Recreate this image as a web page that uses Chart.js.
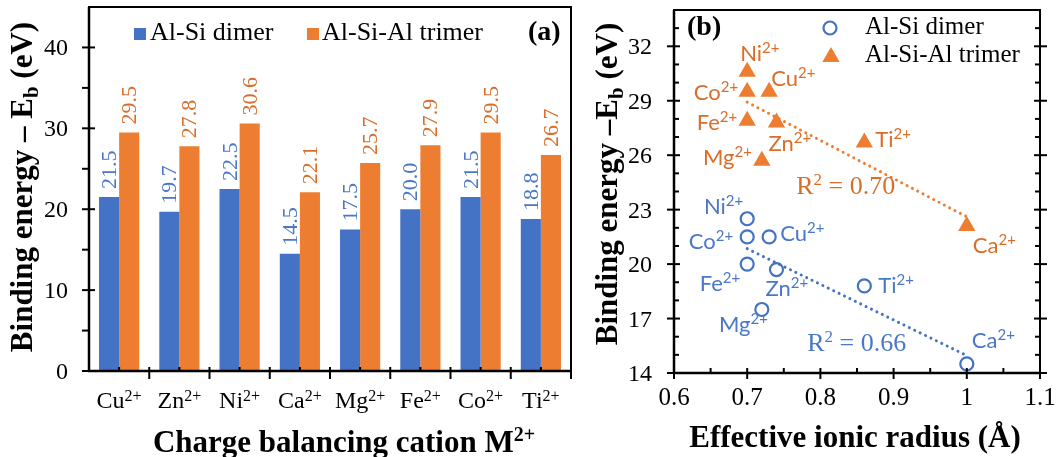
<!DOCTYPE html>
<html>
<head>
<meta charset="utf-8">
<script src="https://cdn.jsdelivr.net/npm/chart.js@4.4.1/dist/chart.umd.min.js"></script>
<style>
  html, body { margin: 0; padding: 0; background: #fff; width: 1056px; height: 457px; overflow: hidden; }
  #panelA { position: absolute; left: 0; top: 0; width: 580px; height: 457px; }
  #panelB { position: absolute; left: 580px; top: 0; width: 476px; height: 457px; }
</style>
</head>
<body>
<div id="panelA"><canvas id="barChart" width="580" height="457"></canvas></div>
<div id="panelB"><canvas id="scatterChart" width="476" height="457"></canvas></div>
<script>
// ---- data ----
const cations = ['Cu²⁺', 'Zn²⁺', 'Ni²⁺', 'Ca²⁺', 'Mg²⁺', 'Fe²⁺', 'Co²⁺', 'Ti²⁺'];
const dimerEb = [21.5, 19.7, 22.5, 14.5, 17.5, 20.0, 21.5, 18.8];
const trimerEb = [29.5, 27.8, 30.6, 22.1, 25.7, 27.9, 29.5, 26.7];
const ionicRadius = [0.73, 0.74, 0.70, 1.00, 0.72, 0.70, 0.70, 0.86];
const seriesNames = ['Al-Si dimer', 'Al-Si-Al trimer'];
const barTicks = [0, 10, 20, 30, 40];
const radiusTicks = [0.6, 0.7, 0.8, 0.9, 1.0, 1.1];
const radiusTickLabels = ['0.6', '0.7', '0.8', '0.9', '1', '1.1'];
const energyTicks = [14, 17, 20, 23, 26, 29, 32];

// ---- styling ----
const BLUE = '#4472C4';
const ORANGE = '#ED7D31';
const BLUE_TEXT = '#4A78C8';
const ORANGE_TEXT = '#D86E2A';
const SERIF = '"Liberation Serif", "Times New Roman", serif';
const SANS = 'Lato, "Open Sans", sans-serif';

// label anchors (px offsets from each marker) for the ion names in panel (b)
const dimerLabelPos = [[11, 4, 'left'], [-11, 26, 'left'], [-4, -5, 'right'], [5, -16, 'left'],
                       [6, 23, 'right'], [-7, 27, 'right'], [-14, 12, 'right'], [14, 7, 'left']];
const trimerLabelPos = [[2, -6, 'left'], [-8, 28, 'left'], [-7, -11, 'left'], [6, 27, 'left'],
                        [-10, 4, 'right'], [-10, 9, 'right'], [-9, 8, 'right'], [11, 5, 'left']];
// where the R² annotations sit, in axis units
const r2LabelAt = [{ x: 0.782, y: 15.2 }, { x: 0.767, y: 23.84 }];

// ---- helpers ----
const SUP_MAP = { '²': '2', '⁺': '+' };
function splitSup(s) {
  const i = s.search(/[²⁺]/);
  if (i < 0) return [s, ''];
  return [s.slice(0, i), [...s.slice(i)].map(c => SUP_MAP[c] || c).join('')];
}
function drawRich(ctx, parts, x, y, align) {
  let w = 0;
  parts.forEach(p => { ctx.font = p.font; p.w = ctx.measureText(p.text).width; w += p.w; });
  let cx = align === 'center' ? x - w / 2 : align === 'right' ? x - w : x;
  ctx.textAlign = 'left';
  ctx.textBaseline = 'alphabetic';
  parts.forEach(p => { ctx.font = p.font; ctx.fillText(p.text, cx, y + (p.dy || 0)); cx += p.w; });
}
function ionParts(label, baseFont, supFont, rise) {
  const [b, s] = splitSup(label);
  const parts = [{ text: b, font: baseFont }];
  if (s) parts.push({ text: s, font: supFont, dy: -rise });
  return parts;
}
function line(ctx, x1, y1, x2, y2) {
  ctx.beginPath(); ctx.moveTo(x1, y1); ctx.lineTo(x2, y2); ctx.stroke();
}
function leastSquares(xs, ys) {
  const n = xs.length;
  const mx = xs.reduce((a, b) => a + b, 0) / n;
  const my = ys.reduce((a, b) => a + b, 0) / n;
  let sxy = 0, sxx = 0, syy = 0;
  for (let i = 0; i < n; i++) {
    sxy += (xs[i] - mx) * (ys[i] - my);
    sxx += (xs[i] - mx) ** 2;
    syy += (ys[i] - my) ** 2;
  }
  const slope = sxy / sxx;
  return { slope, icpt: my - slope * mx, r2: sxy * sxy / (sxx * syy) };
}
function fitLine(xs, ys) {
  const f = leastSquares(xs, ys);
  const x0 = Math.min(...xs), x1 = Math.max(...xs);
  return [{ x: x0, y: f.icpt + f.slope * x0 }, { x: x1, y: f.icpt + f.slope * x1 }];
}
function yTitle(ctx, x, y, dash) {
  ctx.save();
  ctx.translate(x, y);
  ctx.rotate(-Math.PI / 2);
  ctx.fillStyle = '#000';
  drawRich(ctx, [
    { text: 'Binding energy ' + dash + 'E', font: `bold 31px ${SERIF}` },
    { text: 'b', font: `bold 21px ${SERIF}`, dy: 6 },
    { text: ' (eV)', font: `bold 31px ${SERIF}` }
  ], 0, 0, 'center');
  ctx.restore();
}

// ---- panel (a): bar chart decorations ----
const barDecor = {
  id: 'barDecor',
  afterDraw(chart) {
    const { ctx, chartArea: a, scales: { x, y } } = chart;
    ctx.save();

    // value labels above bars, rotated
    chart.data.datasets.forEach((ds, d) => {
      const meta = chart.getDatasetMeta(d);
      ctx.fillStyle = d === 0 ? BLUE_TEXT : ORANGE_TEXT;
      ctx.font = `22px ${SERIF}`;
      meta.data.forEach((bar, i) => {
        ctx.save();
        ctx.translate(bar.x + 7, bar.y - 8);
        ctx.rotate(-Math.PI / 2);
        ctx.textAlign = 'left';
        ctx.textBaseline = 'alphabetic';
        ctx.fillText(ds.data[i].toFixed(1), 0, 0);
        ctx.restore();
      });
    });

    // frame
    ctx.strokeStyle = '#000';
    ctx.lineWidth = 2;
    ctx.strokeRect(a.left, a.top, a.right - a.left, a.bottom - a.top);
    ctx.lineWidth = 2.5;
    line(ctx, a.left, a.top, a.left, a.bottom + 1);
    line(ctx, a.left - 1, a.bottom, a.right + 1, a.bottom);

    // y ticks
    ctx.lineWidth = 2;
    barTicks.forEach(v => { const py = y.getPixelForValue(v); line(ctx, a.left - 7, py, a.left + 6, py); });
    for (let v = 5; v < 45; v += 10) { const py = y.getPixelForValue(v); line(ctx, a.left - 7, py, a.left, py); }

    // x ticks at category boundaries and small marks at centres
    const n = cations.length;
    const cw = (a.right - a.left) / n;
    for (let i = 1; i <= n; i++) line(ctx, a.left + i * cw, a.bottom - 4, a.left + i * cw, a.bottom + 8);
    for (let i = 0; i < n; i++) { const px = x.getPixelForValue(i); line(ctx, px, a.bottom - 4, px, a.bottom); }

    // tick labels
    ctx.fillStyle = '#000';
    barTicks.forEach(v => {
      const py = y.getPixelForValue(v);
      drawRich(ctx, [{ text: String(v), font: `24px ${SERIF}` }], a.left - 21, py + 8, 'right');
    });
    cations.forEach((c, i) => {
      drawRich(ctx, ionParts(c, `24px ${SERIF}`, `16px ${SERIF}`, 7), x.getPixelForValue(i), 408, 'center');
    });

    // legend
    ctx.fillStyle = BLUE; ctx.fillRect(134, 28, 12, 12);
    ctx.fillStyle = ORANGE; ctx.fillRect(307, 28, 12, 12);
    ctx.fillStyle = '#000';
    drawRich(ctx, [{ text: seriesNames[0], font: `26px ${SERIF}` }], 150, 40, 'left');
    drawRich(ctx, [{ text: seriesNames[1], font: `26px ${SERIF}` }], 322, 40, 'left');

    // panel tag
    drawRich(ctx, [{ text: '(a)', font: `bold 28px ${SERIF}` }], 528, 40, 'left');

    // axis titles
    drawRich(ctx, [
      { text: 'Charge balancing cation M', font: `bold 31px ${SERIF}` },
      { text: '2+', font: `bold 20px ${SERIF}`, dy: -11 }
    ], 344, 452, 'center');
    yTitle(ctx, 32, 187, '– ');
    ctx.restore();
  }
};

new Chart(document.getElementById('barChart'), {
  type: 'bar',
  data: {
    labels: cations,
    datasets: [
      { label: seriesNames[0], data: dimerEb, backgroundColor: BLUE, categoryPercentage: 0.667, barPercentage: 1 },
      { label: seriesNames[1], data: trimerEb, backgroundColor: ORANGE, categoryPercentage: 0.667, barPercentage: 1 }
    ]
  },
  options: {
    responsive: false,
    animation: false,
    devicePixelRatio: 1,
    layout: { padding: { top: 7, right: 9, left: 0, bottom: 0 } },
    plugins: { legend: { display: false }, tooltip: { enabled: false } },
    scales: {
      x: {
        grid: { display: false }, border: { display: false }, ticks: { display: false },
        afterFit: s => { s.height = 86; }
      },
      y: {
        min: 0, max: 45,
        afterBuildTicks: s => { s.ticks = barTicks.map(v => ({ value: v })); },
        grid: { display: false }, border: { display: false }, ticks: { display: false },
        afterFit: s => { s.width = 89; }
      }
    }
  },
  plugins: [barDecor]
});

// ---- panel (b): scatter chart decorations ----
const scatterDecor = {
  id: 'scatterDecor',
  afterDraw(chart) {
    const { ctx, chartArea: a, scales: { x, y } } = chart;
    ctx.save();

    // frame
    ctx.strokeStyle = '#000';
    ctx.lineWidth = 2;
    ctx.strokeRect(a.left, a.top, a.right - a.left, a.bottom - a.top);
    ctx.lineWidth = 2.5;
    line(ctx, a.left, a.top, a.left, a.bottom + 1);
    line(ctx, a.left - 1, a.bottom, a.right + 1, a.bottom);

    // y ticks on both sides
    ctx.lineWidth = 2;
    for (let v = 15; v < 34; v++) {
      if (energyTicks.includes(v)) continue;
      const py = y.getPixelForValue(v);
      line(ctx, a.left, py, a.left + 5, py);
      line(ctx, a.right - 5, py, a.right, py);
    }
    energyTicks.forEach(v => {
      const py = y.getPixelForValue(v);
      line(ctx, a.left - 7, py, a.left + 6, py);
      line(ctx, a.right - 6, py, a.right + 7, py);
    });
    // x ticks
    radiusTicks.forEach(v => { const px = x.getPixelForValue(v); line(ctx, px, a.bottom - 5, px, a.bottom + 6); });
    for (let i = 0; i < radiusTicks.length - 1; i++) {
      const px = x.getPixelForValue((radiusTicks[i] + radiusTicks[i + 1]) / 2);
      line(ctx, px, a.bottom - 5, px, a.bottom);
    }

    // tick labels
    ctx.fillStyle = '#000';
    energyTicks.forEach(v => {
      drawRich(ctx, [{ text: String(v), font: `24px ${SERIF}` }], a.left - 22, y.getPixelForValue(v) + 8, 'right');
    });
    radiusTicks.forEach((v, i) => {
      drawRich(ctx, [{ text: radiusTickLabels[i], font: `25px ${SERIF}` }], x.getPixelForValue(v), 405, 'center');
    });

    // ion name labels beside markers
    [[0, dimerLabelPos, BLUE_TEXT], [1, trimerLabelPos, ORANGE_TEXT]].forEach(([d, pos, col]) => {
      const meta = chart.getDatasetMeta(d);
      ctx.fillStyle = col;
      meta.data.forEach((pt, i) => {
        const [dx, dy, al] = pos[i];
        drawRich(ctx, ionParts(cations[i], `22px ${SANS}`, `15px ${SANS}`, 8), pt.x + dx, pt.y + dy, al);
      });
    });

    // R² annotations
    const fits = [leastSquares(ionicRadius, dimerEb), leastSquares(ionicRadius, trimerEb)];
    [[0, BLUE_TEXT], [1, ORANGE_TEXT]].forEach(([d, col]) => {
      ctx.fillStyle = col;
      drawRich(ctx, [
        { text: 'R', font: `26px ${SERIF}` },
        { text: '2', font: `17px ${SERIF}`, dy: -9 },
        { text: ' = ' + fits[d].r2.toFixed(2), font: `26px ${SERIF}` }
      ], x.getPixelForValue(r2LabelAt[d].x), y.getPixelForValue(r2LabelAt[d].y), 'left');
    });

    // legend
    ctx.strokeStyle = BLUE; ctx.lineWidth = 2.2; ctx.fillStyle = 'rgba(0,0,0,0)';
    Chart.helpers.drawPoint(ctx, { pointStyle: 'circle', radius: 6.5, borderWidth: 2.2, rotation: 0 }, 250, 28);
    ctx.fillStyle = ORANGE;
    Chart.helpers.drawPoint(ctx, { pointStyle: 'triangle', radius: 10, borderWidth: 0, rotation: 0 }, 251, 57);
    ctx.fillStyle = '#000';
    drawRich(ctx, [{ text: seriesNames[0], font: `25px ${SERIF}` }], 285, 34, 'left');
    drawRich(ctx, [{ text: seriesNames[1], font: `25px ${SERIF}` }], 285, 62, 'left');

    // panel tag
    drawRich(ctx, [{ text: '(b)', font: `bold 28px ${SERIF}` }], 107, 35, 'left');

    // axis titles
    drawRich(ctx, [{ text: 'Effective ionic radius (Å)', font: `bold 31px ${SERIF}` }], 275, 447, 'center');
    yTitle(ctx, 37, 184, '–');
    ctx.restore();
  }
};

new Chart(document.getElementById('scatterChart'), {
  type: 'scatter',
  data: {
    datasets: [
      {
        label: seriesNames[0],
        data: ionicRadius.map((r, i) => ({ x: r, y: dimerEb[i] })),
        pointStyle: 'circle', pointRadius: 6.5, pointHoverRadius: 6.5,
        borderColor: BLUE, borderWidth: 2.2, backgroundColor: 'rgba(255,255,255,0)', order: 0
      },
      {
        label: seriesNames[1],
        data: ionicRadius.map((r, i) => ({ x: r, y: trimerEb[i] })),
        pointStyle: 'triangle', pointRadius: 10, pointHoverRadius: 10,
        borderColor: ORANGE, borderWidth: 0, backgroundColor: ORANGE, order: 0
      },
      {
        label: 'dimer trend',
        data: fitLine(ionicRadius, dimerEb),
        showLine: true, pointRadius: 0, borderColor: BLUE, borderWidth: 3,
        borderDash: [0.01, 6], borderCapStyle: 'round', order: 1
      },
      {
        label: 'trimer trend',
        data: fitLine(ionicRadius, trimerEb),
        showLine: true, pointRadius: 0, borderColor: ORANGE, borderWidth: 3,
        borderDash: [0.01, 6], borderCapStyle: 'round', order: 1
      }
    ]
  },
  options: {
    responsive: false,
    animation: false,
    devicePixelRatio: 1,
    layout: { padding: { top: 7, right: 16, left: 0, bottom: 0 } },
    plugins: { legend: { display: false }, tooltip: { enabled: false } },
    scales: {
      x: {
        type: 'linear', min: 0.6, max: 1.1,
        afterBuildTicks: s => { s.ticks = radiusTicks.map(v => ({ value: v })); },
        grid: { display: false }, border: { display: false }, ticks: { display: false },
        afterFit: s => { s.height = 84; }
      },
      y: {
        min: 14, max: 34,
        afterBuildTicks: s => { s.ticks = energyTicks.map(v => ({ value: v })); },
        grid: { display: false }, border: { display: false }, ticks: { display: false },
        afterFit: s => { s.width = 94; }
      }
    }
  },
  plugins: [scatterDecor]
});
</script>
</body>
</html>
